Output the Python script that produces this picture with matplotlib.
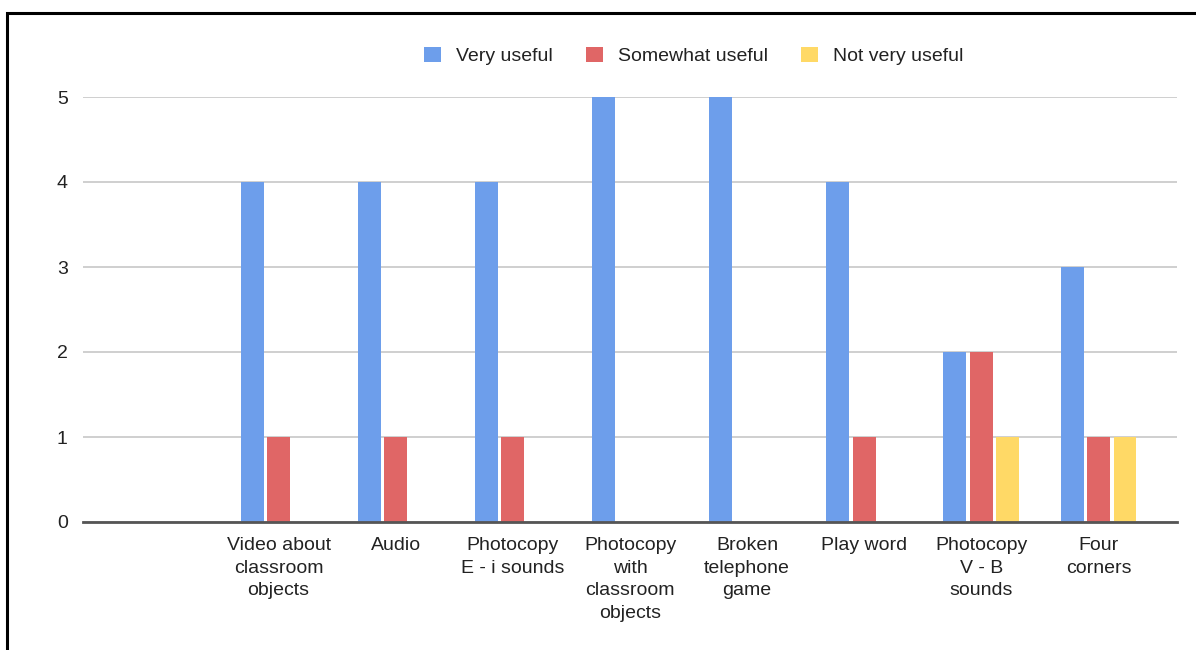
import matplotlib.pyplot as plt
import numpy as np
from matplotlib.patches import Patch, Rectangle

plt.rcParams["font.family"] = ["Liberation Sans", "DejaVu Sans"]

categories = [
    "Video about\nclassroom\nobjects",
    "Audio",
    "Photocopy\nE - i sounds",
    "Photocopy\nwith\nclassroom\nobjects",
    "Broken\ntelephone\ngame",
    "Play word",
    "Photocopy\nV - B\nsounds",
    "Four\ncorners",
]
series_names = ["Very useful", "Somewhat useful", "Not very useful"]
very_useful = [4, 4, 4, 5, 5, 4, 2, 3]
somewhat_useful = [1, 1, 1, 0, 0, 1, 2, 1]
not_very_useful = [0, 0, 0, 0, 0, 0, 1, 1]
y_ticks = [0, 1, 2, 3, 4, 5]

colors = ["#6d9eeb", "#e06666", "#ffd966"]


def main():
    fig = plt.figure(figsize=(11.96, 6.5), dpi=100)
    ax = fig.add_axes([83 / 1196, 1 - 522 / 650, (1177 - 83) / 1196, (522 - 97) / 650])

    x = np.arange(1, len(categories) + 1)
    width = 0.196
    step = 0.226
    for k, (vals, c) in enumerate(zip([very_useful, somewhat_useful, not_very_useful], colors)):
        ax.bar(x + (k - 1) * step, vals, width=width, color=c, zorder=3)

    ax.set_xlim(-0.67, len(categories) + 0.67)
    ax.set_ylim(0, 5)
    ax.set_yticks(y_ticks)
    ax.set_xticks(x)
    ax.set_xticklabels(categories, fontsize=14, linespacing=1.42, color="#222222")
    ax.tick_params(axis="y", labelsize=14, length=0, pad=11, labelcolor="#222222")
    ax.tick_params(axis="x", length=0, pad=11)
    ax.grid(axis="y", color="#cccccc", lw=1.3, zorder=0)
    for s in ["top", "right", "left"]:
        ax.spines[s].set_visible(False)
    ax.spines["bottom"].set_color("#555555")
    ax.spines["bottom"].set_linewidth(2)
    ax.spines["bottom"].set_zorder(4)

    handles = [Patch(facecolor=c, edgecolor="none") for c in colors]
    fig.legend(handles, series_names, loc="center", bbox_to_anchor=(694 / 1196, 1 - 56 / 650),
               ncol=3, frameon=False, fontsize=14, handlelength=0.85, handleheight=0.85,
               handletextpad=0.8, columnspacing=1.7, labelcolor="#222222")

    # outer frame (only left and top edges visible in the crop)
    fig.patches.append(Rectangle((7 / 1196, -0.1), 1.2, 1 - 13 / 650 + 0.1, transform=fig.transFigure,
                                 fill=False, edgecolor="black", lw=2.2))

    fig.savefig("out.png", dpi=100)
    plt.close(fig)


if __name__ == "__main__":
    main()
